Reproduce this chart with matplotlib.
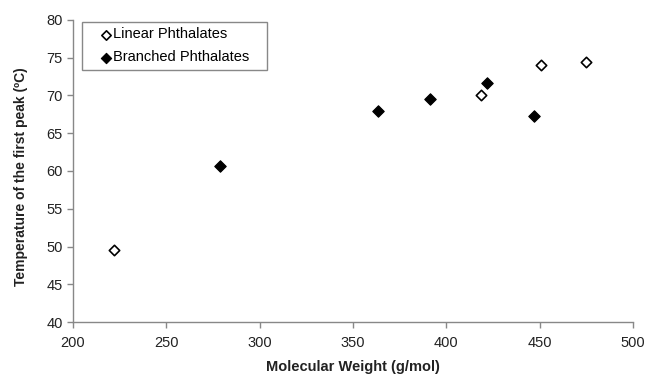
import matplotlib
matplotlib.use("Agg")
import matplotlib.pyplot as plt
from matplotlib.patches import Rectangle

plt.rcParams['font.family'] = ['Liberation Sans', 'DejaVu Sans']

linear_mw = [222, 418.5, 450.7, 475]
linear_temp = [49.5, 70.0, 74.0, 74.5]
branched_mw = [278.7, 363.2, 391.2, 421.5, 447.1]
branched_temp = [60.7, 67.9, 69.5, 71.7, 67.3]
xticks = [200, 250, 300, 350, 400, 450, 500]
yticks = [40, 45, 50, 55, 60, 65, 70, 75, 80]

fig = plt.figure(figsize=(6.48, 3.75), dpi=100)
ax = fig.add_axes([0.1127, 0.1413, 0.977 - 0.1127, 0.9467 - 0.1413])

ax.scatter(linear_mw, linear_temp, marker='D', s=28, facecolors='white',
           edgecolors='black', linewidths=1.2, label='Linear Phthalates', zorder=3)
ax.scatter(branched_mw, branched_temp, marker='D', s=34, facecolors='black',
           edgecolors='black', linewidths=0.8, label='Branched Phthalates', zorder=3)

ax.set_xlim(200, 500)
ax.set_ylim(40, 80)
ax.set_xticks(xticks)
ax.set_yticks(yticks)
for s in ['top', 'right']:
    ax.spines[s].set_visible(False)
for s in ['left', 'bottom']:
    ax.spines[s].set_color('#888888')
    ax.spines[s].set_linewidth(1.0)
ax.tick_params(axis='both', colors='#888888', labelcolor='#222222', labelsize=10.5,
               length=4, width=1.0, direction='out')
ax.tick_params(axis='x', pad=6)

ax.set_xlabel('Molecular Weight (g/mol)', fontsize=10.5, fontweight='bold', labelpad=7, color='#222222')
ax.set_ylabel('Temperature of the first peak (ºC)', fontsize=10, fontweight='bold', color='#222222')
ax.yaxis.set_label_coords(-0.081, 0.48)

# legend box (frame drawn separately for wider padding)
ax.add_patch(Rectangle((0.016, 0.834), 0.33, 0.159, transform=ax.transAxes,
                       facecolor='white', edgecolor='#888888', linewidth=1.0, zorder=4,
                       clip_on=False))
leg = ax.legend(loc='center left', bbox_to_anchor=(0.041, 0.914), borderaxespad=0,
                fontsize=10.5, frameon=False, handletextpad=0.1,
                handlelength=0.8, borderpad=0.3, labelspacing=0.62, markerscale=0.9)
leg.set_zorder(5)

fig.savefig('out.png', dpi=100)
